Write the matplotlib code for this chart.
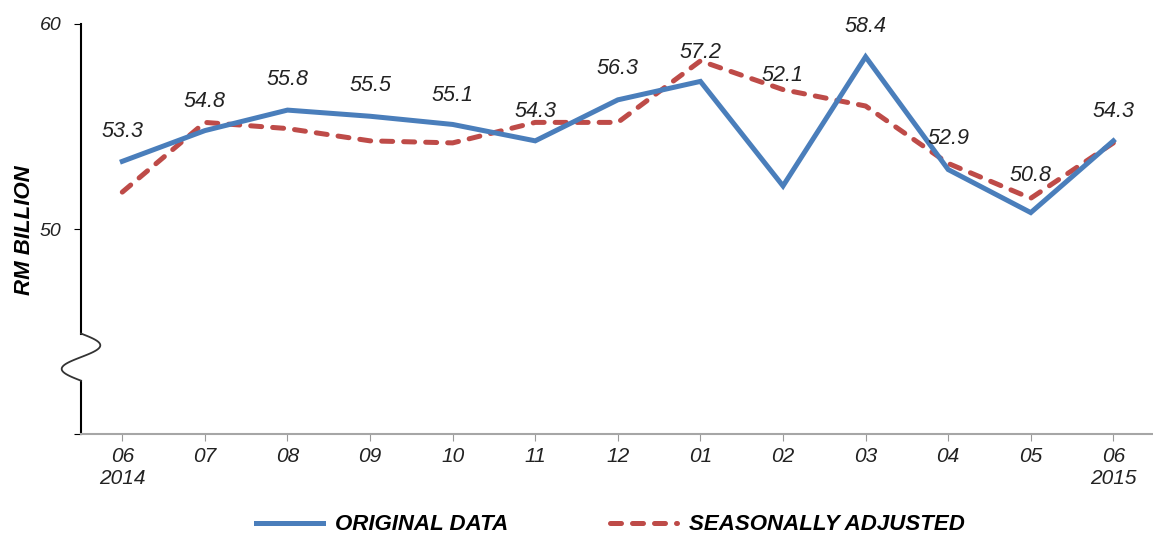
import numpy as np
import matplotlib
matplotlib.use('Agg')
import matplotlib.pyplot as plt
from matplotlib.transforms import blended_transform_factory

months = ['06\n2014', '07', '08', '09', '10', '11', '12', '01', '02', '03', '04', '05', '06\n2015']
original = [53.3, 54.8, 55.8, 55.5, 55.1, 54.3, 56.3, 57.2, 52.1, 58.4, 52.9, 50.8, 54.3]
seasonal = [51.8, 55.2, 54.9, 54.3, 54.2, 55.2, 55.2, 58.2, 56.8, 56.0, 53.2, 51.5, 54.2]
# label lift above each point, in pixels
label_lift = [30, 29, 31, 31, 29, 29, 31, 29, 110, 30, 31, 37, 29]

plt.rcParams['font.family'] = ['Liberation Sans', 'DejaVu Sans']
txt = '#222222'
blue = '#4A7EBB'
red = '#BE4B48'

fig = plt.figure(figsize=(11.53, 5.38), dpi=100)
ax = fig.add_axes([81 / 1153, 1 - 434 / 538, 1 - 81 / 1153, (434 - 24) / 538])

x = np.arange(len(months))
ax.plot(x, original, color=blue, lw=3.6, solid_joinstyle='miter', label='ORIGINAL DATA', zorder=3)
ax.plot(x, seasonal, color=red, lw=3.6, linestyle=(0, (2.2, 2.2)), dash_capstyle='round',
        label='SEASONALLY ADJUSTED', zorder=2)

for xi, v, lift in zip(x, original, label_lift):
    ax.annotate(f'{v:.1f}', (xi, v), xytext=(0, lift), textcoords='offset pixels',
                ha='center', va='center', fontsize=15.5, style='italic', color=txt)

ax.set_xlim(-0.5, 12.48)
ax.set_ylim(40, 60)
ax.set_xticks(x)
ax.set_xticklabels(months, fontsize=15, style='italic', color=txt)
ax.set_yticks([40, 50, 60])
ax.set_yticklabels(['', '50', '60'], fontsize=14, style='italic', color=txt)
ax.tick_params(axis='x', length=5, color='#999999', pad=4)
ax.tick_params(axis='y', length=5, color='black', pad=9)

for s in ['top', 'right', 'left']:
    ax.spines[s].set_visible(False)
ax.spines['bottom'].set_color('#A6A6A6')
ax.spines['bottom'].set_linewidth(1.5)

# broken y axis with a wave
tr = blended_transform_factory(ax.transAxes, ax.transData)
brk_top, brk_bot = 44.9, 42.6
ax.plot([0, 0], [60, brk_top], color='black', lw=1.5, transform=tr, clip_on=False)
ax.plot([0, 0], [brk_bot, 40], color='black', lw=1.5, transform=tr, clip_on=False)
t = np.linspace(0, 1, 100)
wave_y = brk_top - (brk_top - brk_bot) * t
wave_x = 0.018 * np.sin(2 * np.pi * t)
ax.plot(wave_x, wave_y, color='#333333', lw=1.3, transform=tr, clip_on=False)

fig.text(25 / 1153, 1 - 230 / 538, 'RM BILLION', rotation=90, ha='center', va='center',
         fontsize=16, fontweight='bold', style='italic', color='black')

leg = fig.legend(loc='center', bbox_to_anchor=(0.5295, 1 - 525 / 538), ncol=2, frameon=False,
                 handlelength=3.0, handletextpad=0.55, columnspacing=4.6,
                 prop={'size': 16, 'weight': 'bold', 'style': 'italic'})

fig.savefig('out.png', dpi=100)
